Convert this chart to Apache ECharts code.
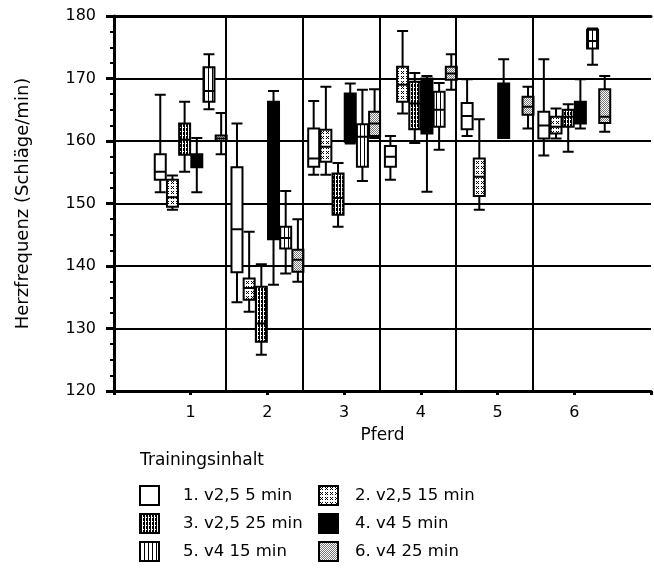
<!DOCTYPE html>
<html><head><meta charset="utf-8">
<script src="https://cdn.jsdelivr.net/npm/echarts@6/dist/echarts.min.js"></script>
<style>html,body{margin:0;padding:0;background:#fff}#c{width:654px;height:577px}</style>
</head><body><div id="c"></div>
<script>
// Categories
const horses = [1, 2, 3, 4, 5, 6];
const trainings = ['1. v2,5 5 min', '2. v2,5 15 min', '3. v2,5 25 min', '4. v4 5 min', '5. v4 15 min', '6. v4 25 min'];
const yTicks = [120, 130, 140, 150, 160, 170, 180];
// Box values per horse: [min, Q1, median, Q3, max]; null = no box
const t1 = [[151.8,153.8,155.1,157.9,167.4],[134.2,139,145.9,155.8,162.8],[154.6,155.9,157.2,162,166.4],[153.8,155.9,157.5,159.2,160.8],[160.8,161.9,164,166.1,169.9],[157.7,160.4,162.5,164.7,173.1]];
const t2 = [[149,149.5,151,153.8,154.5],[132.7,134.6,136.5,138,145.5],[154.6,156.7,159.1,161.8,168.7],[164.4,166.3,169,171.9,177.6],[149,151.2,154.3,157.2,163.5],[160.4,161.2,162.3,163.9,165.2]];
const t3 = [[155.1,157.8,160.2,162.8,166.3],[125.8,127.9,130.8,136.7,140.3],[146.3,148.2,150.9,154.8,156.5],[159.7,161.9,166,169.5,170.9],null,[158.3,162.3,163.9,165,165.9]];
const t4 = [[151.8,155.8,157,157.9,160.5],[137,144.3,155,166.3,168],[159.6,159.9,162,167.6,169.2],[151.9,161.2,165,170,170.4],[160.5,160.5,163,169.2,173.1],[162,162.8,164,166.3,169.9]];
const t5 = [[165.1,166.3,168,171.8,173.9],[138.8,142.8,144.5,146.3,152],[153.6,155.9,160.7,162.7,168.2],[158.6,162.3,165,167.9,169.3],null,[172.2,174.8,176,177.8,178]];
const t6 = [[157.9,160,160.4,160.9,164.5],[137.5,139.1,141,142.6,147.5],[160.5,160.8,162.8,164.7,168.3],[168.2,169.8,170.8,171.9,173.9],[162,164.2,165.5,167.1,168.7],[161.5,162.9,163.9,168.3,170.4]];
const allBoxes = [t1, t2, t3, t4, t5, t6];

// fill patterns
function pat(w, h, draw) {
  const c = document.createElement('canvas');
  c.width = w; c.height = h;
  const g = c.getContext('2d');
  g.fillStyle = '#fff'; g.fillRect(0, 0, w, h);
  draw(g);
  return { image: c, repeat: 'repeat' };
}
const fills = [
  '#ffffff',
  pat(5, 5, g => { g.fillStyle = '#000'; [[1,1],[3,1],[2,2],[1,3],[3,3]].forEach(p => g.fillRect(p[0], p[1], 1, 1)); }),
  pat(3, 4, g => { g.fillStyle = '#000'; g.fillRect(0, 0, 2, 4); g.fillStyle = '#fff'; g.fillRect(0, 3, 1, 1); }),
  '#000000',
  pat(4, 1, g => { g.fillStyle = '#000'; g.fillRect(0, 0, 1, 1); }),
  pat(2, 2, g => { g.fillStyle = '#777'; g.fillRect(0, 0, 1, 1); g.fillRect(1, 1, 1, 1); })
];

const FONT = 'DejaVu Sans';
const dividers = horses.slice(0, -1).map(h => h + 0.46);

const series = trainings.map((name, i) => ({
  type: 'boxplot',
  name: name,
  xAxisIndex: 0,
  boxWidth: [11, 11],
  itemStyle: { color: fills[i], borderColor: '#000', borderWidth: 2 },
  emphasis: { disabled: true },
  data: horses.map((h, j) => allBoxes[i][j] ? [h].concat(allBoxes[i][j]) : [h, '-', '-', '-', '-', '-'])
}));
series.push({
  type: 'line', xAxisIndex: 1, data: [], silent: true,
  markLine: {
    symbol: 'none', silent: true, label: { show: false },
    lineStyle: { color: '#000', width: 2, type: 'solid' },
    data: dividers.map(x => ({ xAxis: x }))
  }
});

function legendItem(i) {
  return { name: trainings[i], icon: 'rect',
    itemStyle: { color: fills[i], borderColor: '#000', borderWidth: 2 } };
}
const legendText = pad => ({ fontFamily: FONT, fontSize: 16.5, color: '#000', lineHeight: 19, padding: [0, 0, 0, pad] });

const chart = echarts.init(document.getElementById('c'), null, { renderer: 'canvas' });
chart.setOption({
  animation: false,
  backgroundColor: '#fff',
  textStyle: { fontFamily: FONT, color: '#000' },
  title: {
    text: 'Trainingsinhalt', left: 140, top: 452, padding: 0,
    textStyle: { fontFamily: FONT, fontSize: 17, fontWeight: 'normal', color: '#000' }
  },
  grid: { left: 114, top: 16, width: 549, height: 375 },
  legend: [
    { data: [legendItem(0), legendItem(2), legendItem(4)], orient: 'vertical', left: 139, top: 485, padding: 0,
      itemWidth: 19, itemHeight: 19, itemGap: 7, selectedMode: false,
      textStyle: legendText(19) },
    { data: [legendItem(1), legendItem(3), legendItem(5)], orient: 'vertical', left: 318, top: 485, padding: 0,
      itemWidth: 19, itemHeight: 19, itemGap: 7, selectedMode: false,
      textStyle: legendText(12) }
  ],
  xAxis: [
    { type: 'value', min: 0, max: 7, interval: 1, position: 'bottom',
      name: 'Pferd', nameLocation: 'middle', nameGap: 36,
      nameTextStyle: { fontFamily: FONT, fontSize: 17, color: '#000' },
      axisLine: { lineStyle: { color: '#000', width: 3 } },
      axisTick: { length: 4, lineStyle: { color: '#000', width: 3 } },
      axisLabel: { fontFamily: FONT, fontSize: 16, color: '#000', margin: 14,
        formatter: v => (horses.indexOf(v) >= 0 ? String(v) : '') },
      splitLine: { show: false } },
    { type: 'value', min: 0, max: 7, interval: 1, position: 'top',
      axisLine: { show: true, lineStyle: { color: '#000', width: 3 } },
      axisTick: { show: false }, axisLabel: { show: false }, splitLine: { show: false } }
  ],
  yAxis: {
    type: 'value', min: yTicks[0], max: yTicks[yTicks.length - 1], interval: 10,
    name: 'Herzfrequenz (Schläge/min)', nameLocation: 'middle', nameGap: 82,
    nameTextStyle: { fontFamily: FONT, fontSize: 18, color: '#000' },
    axisLine: { show: true, lineStyle: { color: '#000', width: 3 } },
    axisTick: { show: true, length: 8, lineStyle: { color: '#000', width: 3 } },
    minorTick: { show: true, splitNumber: 4, length: 4, lineStyle: { color: '#000', width: 2 } },
    axisLabel: { fontFamily: FONT, fontSize: 16, color: '#000', margin: 18 },
    splitLine: { show: true, lineStyle: { color: '#000', width: 2 } }
  },
  series: series
});
</script>
</body></html>
